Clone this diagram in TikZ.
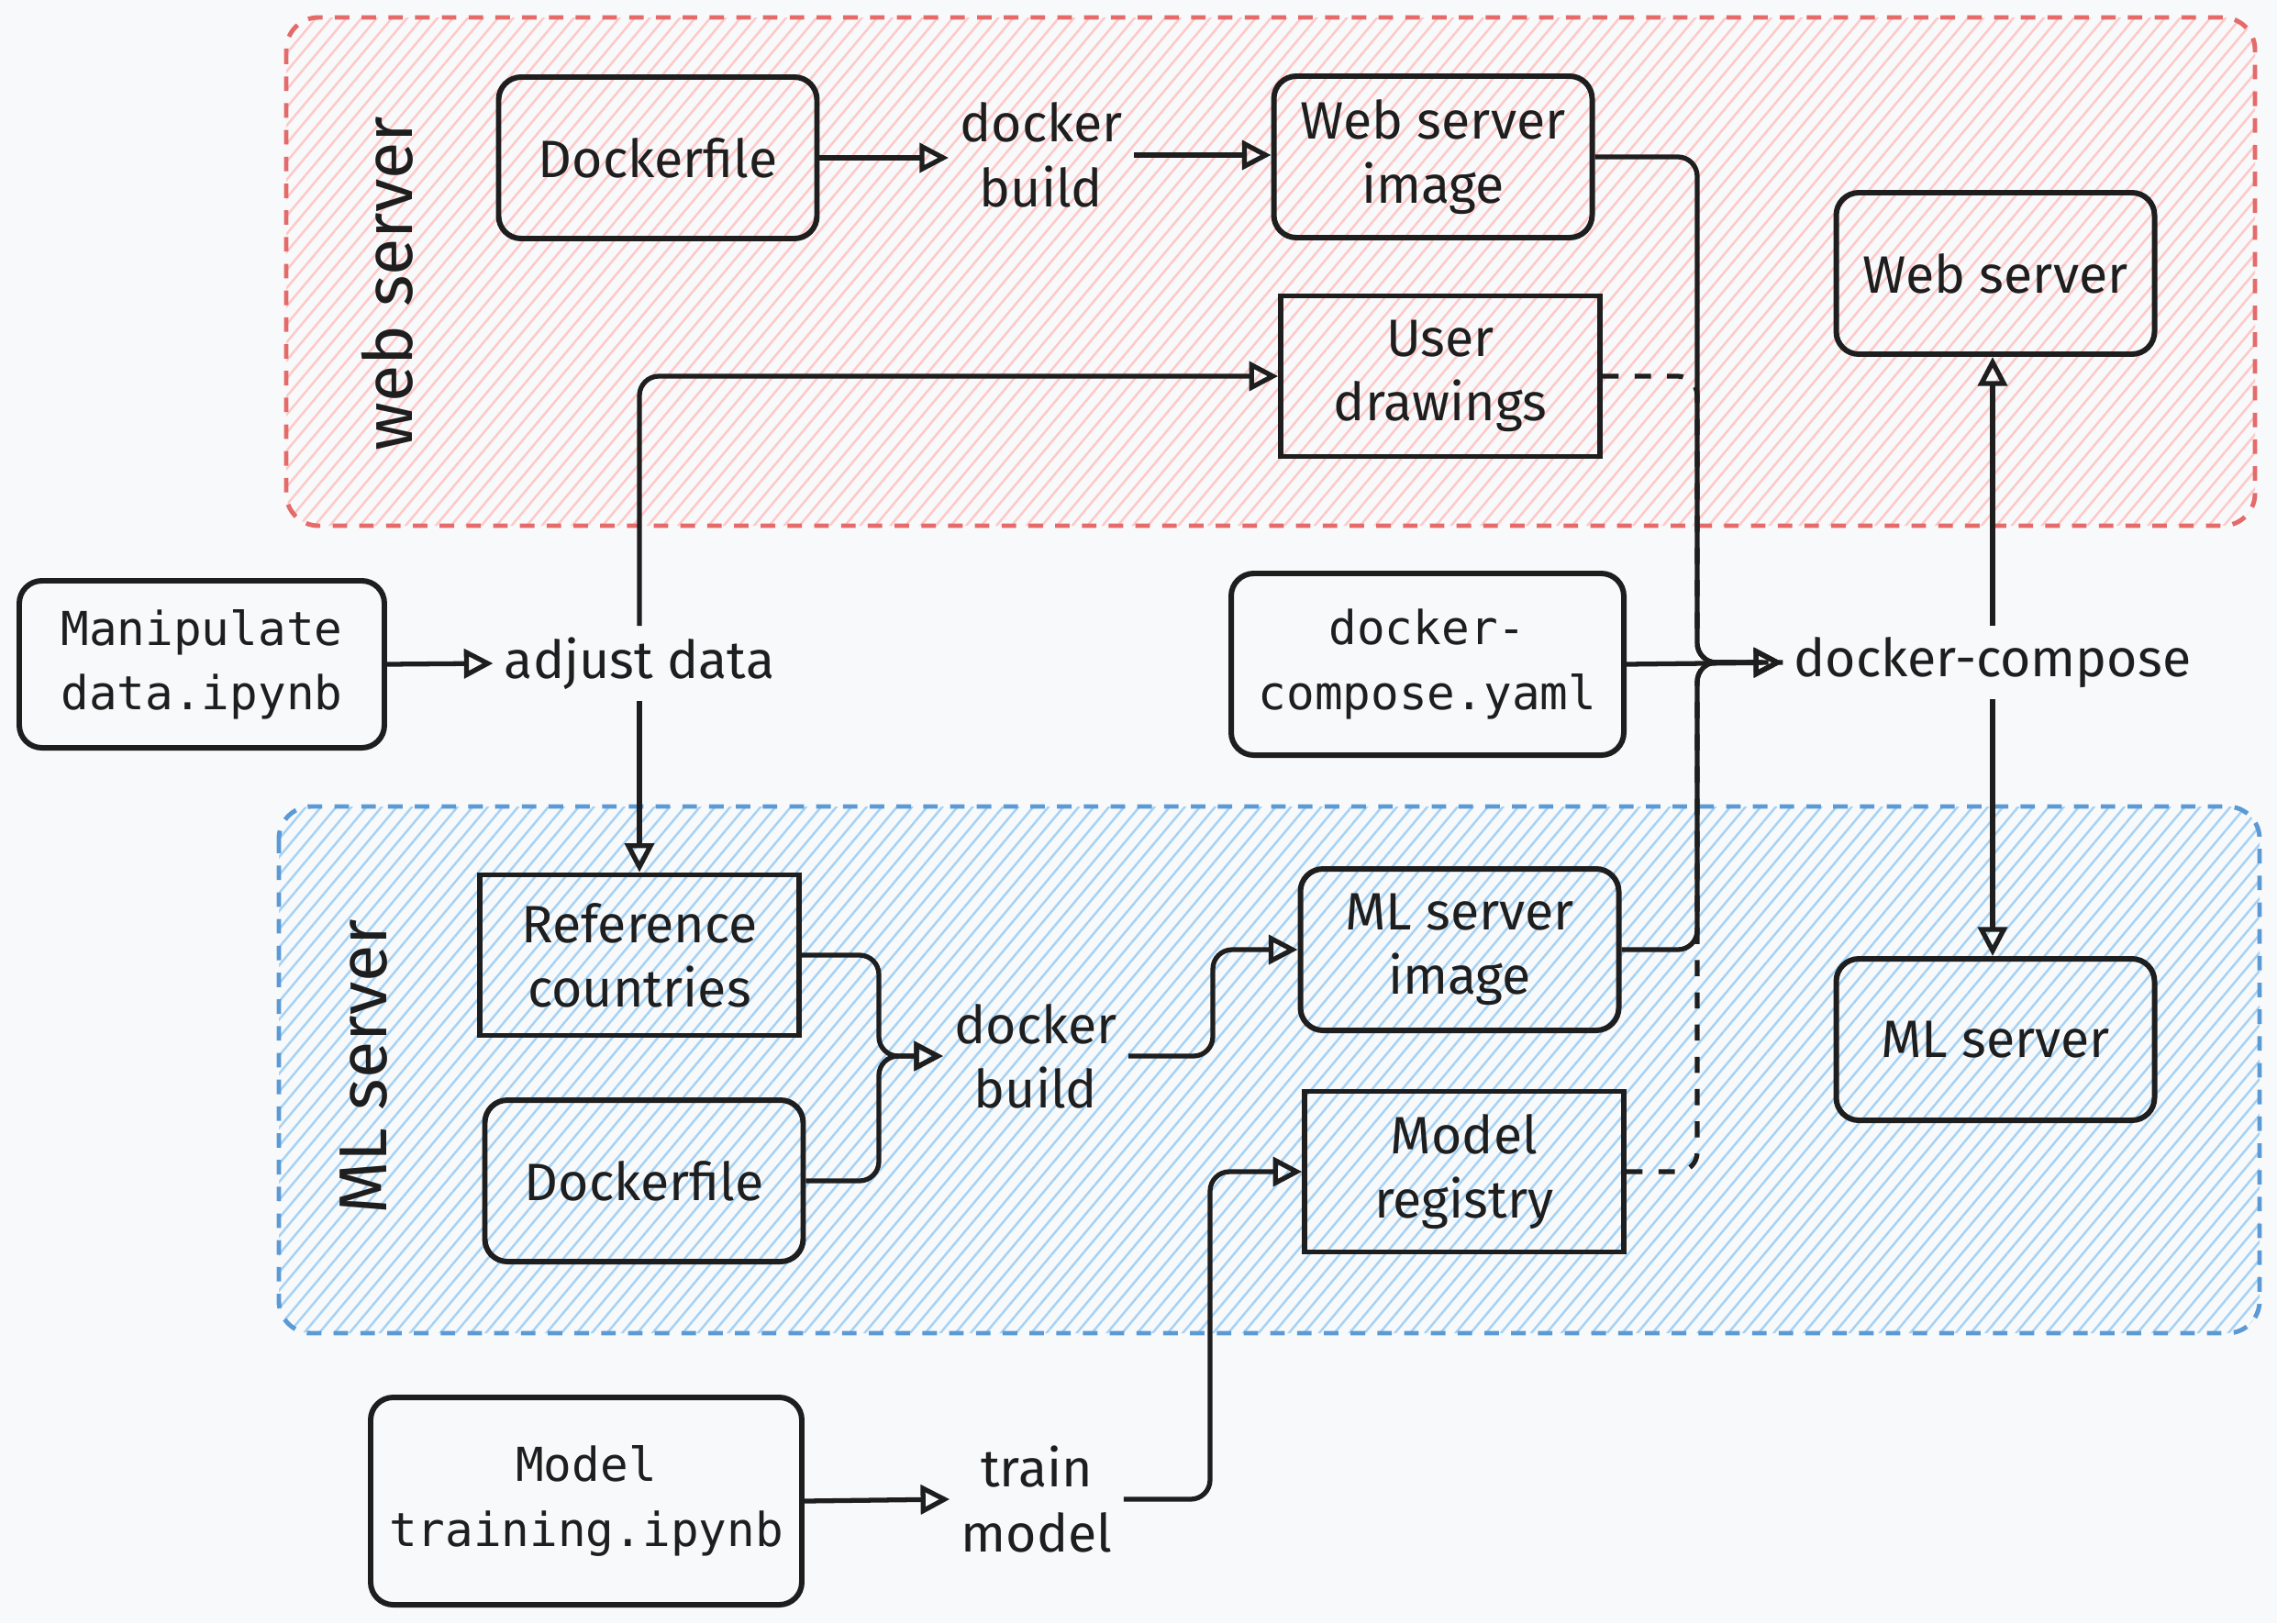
\documentclass[tikz,border=0pt]{standalone}
\usepackage{fontspec}
\setmainfont{Fira Sans}
\setmonofont{DejaVu Sans Mono}
\usetikzlibrary{arrows.meta,patterns.meta,calc}

\definecolor{bgpaper}{RGB}{248,249,250}
\definecolor{webred}{RGB}{229,106,106}
\definecolor{webhatch}{RGB}{255,200,200}
\definecolor{mlblue}{RGB}{92,154,214}
\definecolor{mlhatch}{RGB}{165,210,245}
\definecolor{ink}{RGB}{30,30,30}

\tikzset{
  lbl/.style={font=\fontsize{16.3}{20}\selectfont, align=center, text=ink},
  code/.style={font=\fontsize{14.5}{20}\selectfont\ttfamily, align=center, text=ink},
  rbox/.style={lbl, draw=ink, line width=1.7pt, rounded corners=7pt, minimum width=3.47cm, minimum height=1.76cm},
  sbox/.style={lbl, draw=ink, line width=1.6pt, minimum width=3.48cm, minimum height=1.75cm},
  conn/.style={draw=ink, line width=1.5pt, -{Triangle[open,length=9pt,width=9pt]}, rounded corners=6pt},
  link/.style={draw=ink, line width=1.5pt, dash pattern=on 5pt off 5pt, rounded corners=6pt},
  group/.style={line width=1.4pt, dash pattern=on 4.5pt off 3.8pt, rounded corners=10pt},
  grouplabel/.style={font=\fontsize{21}{24}\selectfont, rotate=90, text=ink},
}

\begin{document}
\begin{tikzpicture}
% ==========================================
\fill[bgpaper] (0,0) rectangle (24.82,-17.69);
\useasboundingbox (0,0) rectangle (24.82,-17.69);
%
% groups
\draw[group, draw=webred, pattern={Lines[angle=50,distance=3.6pt,line width=0.7pt]}, pattern color=webhatch] (3.12,-0.19) rectangle (24.58,-5.73);
\draw[group, draw=mlblue, pattern={Lines[angle=50,distance=3.6pt,line width=0.7pt]}, pattern color=mlhatch] (3.04,-8.79) rectangle (24.63,-14.53);
\node[grouplabel] (weblbl) at (4.22,-3.09) {web server};
\node[grouplabel] (mllbl) at (3.97,-11.63) {ML server};
%
% web server part
\node[rbox] (dfweb) at (7.17,-1.72) {Dockerfile};
\node[lbl] (buildweb) at (11.35,-1.69) {docker\\build};
\node[rbox] (webimg) at (15.62,-1.71) {Web server\\image};
\node[rbox] (websrv) at (21.75,-2.98) {Web server};
\node[sbox] (drawings) at (15.70,-4.10) {User\\drawings};
%
% middle row
\node[rbox, code, minimum width=3.98cm, minimum height=1.82cm] (manip) at (2.20,-7.24) {Manipulate\\data.ipynb};
\node[lbl] (adjust) at (6.97,-7.23) {adjust data};
\node[rbox, code, minimum width=4.28cm, minimum height=1.98cm] (yaml) at (15.56,-7.24) {docker-\\compose.yaml};
\node[lbl] (compose) at (21.72,-7.22) {docker-compose};
%
% ML server part
\node[sbox] (refc) at (6.97,-10.41) {Reference\\countries};
\node[rbox] (dfml) at (7.02,-12.87) {Dockerfile};
\node[lbl] (buildml) at (11.29,-11.51) {docker\\build};
\node[rbox] (mlimg) at (15.91,-10.35) {ML server\\image};
\node[sbox] (registry) at (15.96,-12.77) {Model\\registry};
\node[rbox] (mlsrv) at (21.75,-11.33) {ML server};
%
% training
\node[rbox, code, minimum width=4.70cm, minimum height=2.26cm] (training) at (6.39,-16.36) {Model\\training.ipynb};
\node[lbl] (trainml) at (11.30,-16.34) {train\\model};
%
\coordinate (rail) at (18.50,0);
\coordinate (bendA) at (9.58,0);
\coordinate (bendB) at (13.22,0);
\coordinate (bendC) at (13.19,0);
%
% dashed links
\draw[link] (drawings.east) -- (drawings.east -| rail) |- (compose.west);
\draw[link] (registry.east) -- (registry.east -| rail) |- (compose.west);
%
\draw[conn] (dfweb.east) -- (dfweb.east -| buildweb.west);
\draw[conn] (buildweb.east) -- (buildweb.east -| webimg.west);
\draw[conn] (webimg.east) -- (webimg.east -| rail) |- (compose.west);
\draw[conn] (yaml.east) -- (compose.west);
\draw[conn] (mlimg.east) -- (mlimg.east -| rail) |- (compose.west);
\draw[conn] (compose.north) -- (compose.north |- websrv.south);
\draw[conn] (compose.south) -- (compose.south |- mlsrv.north);
%
\draw[conn] (manip.east) -- (adjust.west);
\draw[conn] (adjust.north) |- (drawings.west);
\draw[conn] (adjust.south) -- (refc.north);
%
\draw[conn] (refc.east) -- (refc.east -| bendA) |- (buildml.west);
\draw[conn] (dfml.east) -- (dfml.east -| bendA) |- (buildml.west);
\draw[conn] (buildml.east) -- (buildml.east -| bendB) |- (mlimg.west);
%
\draw[conn] (training.east) -- (trainml.west);
\draw[conn] (trainml.east) -- (trainml.east -| bendC) |- (registry.west);
% =============================================
\end{tikzpicture}
\end{document}
